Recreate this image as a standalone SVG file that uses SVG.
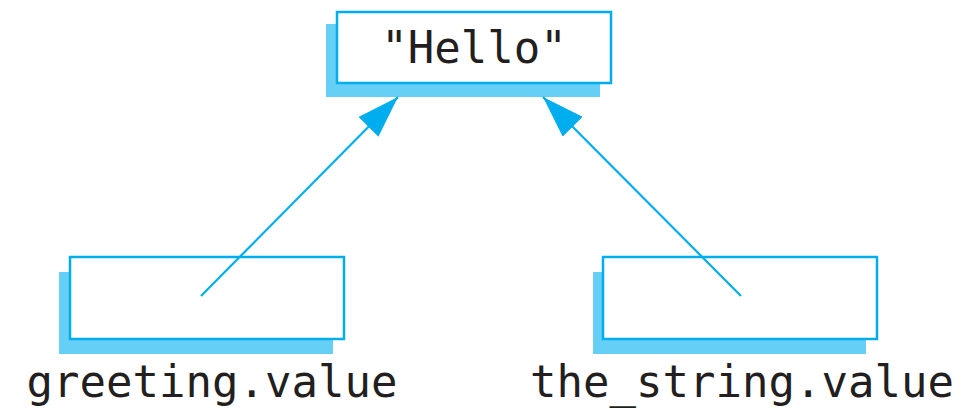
<svg xmlns="http://www.w3.org/2000/svg" width="973" height="409" viewBox="0 0 973 409">
<style>
.shadow{fill:#66CFF5;stroke:none}
.box{fill:#fff;stroke:#00AEEF;stroke-width:2.5}
.lbl{font-family:"DejaVu Sans Mono","Liberation Mono",monospace;font-size:44px;fill:#231F20;text-anchor:middle}
.conn{stroke:#00AEEF;stroke-width:2.2;fill:none}
</style>
<defs>
<marker id="ah" viewBox="0 0 42 28" refX="42" refY="14" markerWidth="42" markerHeight="28" markerUnits="userSpaceOnUse" orient="auto">
<path d="M0,0 L42,14 L0,28 Z" fill="#00AEEF"/>
</marker>
</defs>
<rect width="973" height="409" fill="#fff"/>
<g id="hello">
<rect class="shadow" x="326" y="24" width="274" height="73"/>
<rect class="box" x="337" y="12" width="274" height="71"/>
<text class="lbl" x="474" y="63">"Hello"</text>
</g>
<g id="greeting">
<rect class="shadow" x="59" y="272" width="274" height="82"/>
<rect class="box" x="70" y="257" width="274" height="82"/>
<text class="lbl" x="212" y="397">greeting.value</text>
</g>
<g id="the_string">
<rect class="shadow" x="593" y="272" width="273" height="82"/>
<rect class="box" x="603" y="257" width="274" height="82"/>
<text class="lbl" x="742" y="397">the_string.value</text>
</g>
<g id="connectors">
<line class="conn" x1="201" y1="296" x2="398" y2="97" marker-end="url(#ah)"/>
<line class="conn" x1="741" y1="296" x2="543" y2="97" marker-end="url(#ah)"/>
</g>
</svg>
